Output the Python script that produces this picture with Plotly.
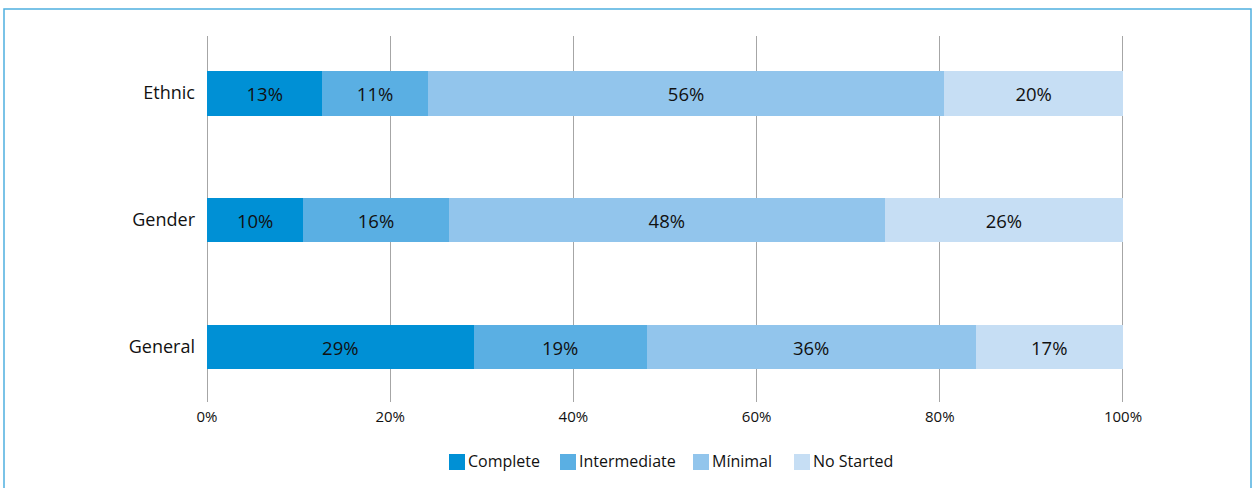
import plotly.graph_objects as go

categories = ["General", "Gender", "Ethnic"]
series_names = ["Complete", "Intermediate", "Mínimal", "No Started"]
complete = [29.1, 10.5, 12.6]
intermediate = [18.9, 15.9, 11.5]
minimal = [35.9, 47.6, 56.4]
no_started = [16.1, 26.0, 19.5]
complete_lbl = ["29%", "10%", "13%"]
intermediate_lbl = ["19%", "16%", "11%"]
minimal_lbl = ["36%", "48%", "56%"]
no_started_lbl = ["17%", "26%", "20%"]
x_ticks = [0, 20, 40, 60, 80, 100]
x_tick_labels = ["0%", "20%", "40%", "60%", "80%", "100%"]

colors = ["#0090d5", "#5aafe3", "#92c5ec", "#c6def4"]
values = [complete, intermediate, minimal, no_started]
labels = [complete_lbl, intermediate_lbl, minimal_lbl, no_started_lbl]

FONT = "Open Sans"
fig = go.Figure()
for name, vals, lbls, col in zip(series_names, values, labels, colors):
    fig.add_trace(go.Bar(
        y=categories, x=vals, name=name, orientation="h",
        marker=dict(color=col, line=dict(width=0)),
        text=lbls, textposition="inside", insidetextanchor="middle",
        textangle=0, constraintext="none",
        textfont=dict(family=FONT, size=18.5, color="#111111"),
        width=0.354, hoverinfo="skip", showlegend=False,
    ))

L, R, T, B = 206, 1124, 36, 402
W, H = 1253, 488
def px(x):
    return (x - L) / (R - L)
def py(y):
    return (B - y) / (B - T)

fig.add_shape(type="rect", xref="paper", yref="paper",
              x0=px(4), x1=px(1251), y0=py(495), y1=py(9),
              line=dict(color="#4fb0e0", width=1.5), fillcolor="rgba(0,0,0,0)", layer="below")

# custom legend (squares + text)
legend_left = [449, 560, 693, 794]
for name, col, lx in zip(series_names, colors, legend_left):
    fig.add_shape(type="rect", xref="paper", yref="paper",
                  x0=px(lx), x1=px(lx + 16), y0=py(470), y1=py(454),
                  line=dict(width=0), fillcolor=col)
    fig.add_annotation(xref="paper", yref="paper", x=px(lx + 17), y=py(461),
                       xanchor="left", yanchor="middle", showarrow=False, text=name,
                       font=dict(family=FONT, size=16, color="#111111"))

fig.update_layout(
    width=W, height=H, barmode="stack",
    margin=dict(l=L, r=W - R, t=T, b=H - B),
    paper_bgcolor="white", plot_bgcolor="white",
    font=dict(family=FONT, color="#111111"),
    showlegend=False,
    xaxis=dict(range=[-0.11, 100.11], tickmode="array", tickvals=x_ticks, ticktext=x_tick_labels,
               showgrid=True, gridcolor="#a6a6a6", gridwidth=1,
               zeroline=False, showline=False, ticks="", ticklabelstandoff=4,
               tickfont=dict(family=FONT, size=15, color="#111111")),
    yaxis=dict(range=[-0.433, 2.449], showgrid=False, zeroline=False, showline=False,
               ticks="", ticklabelstandoff=10,
               tickfont=dict(family=FONT, size=18, color="#111111")),
)

fig.write_html("out.html", config={"displayModeBar": False},
               post_script="document.body.style.margin='0';document.body.style.overflow='hidden';")
